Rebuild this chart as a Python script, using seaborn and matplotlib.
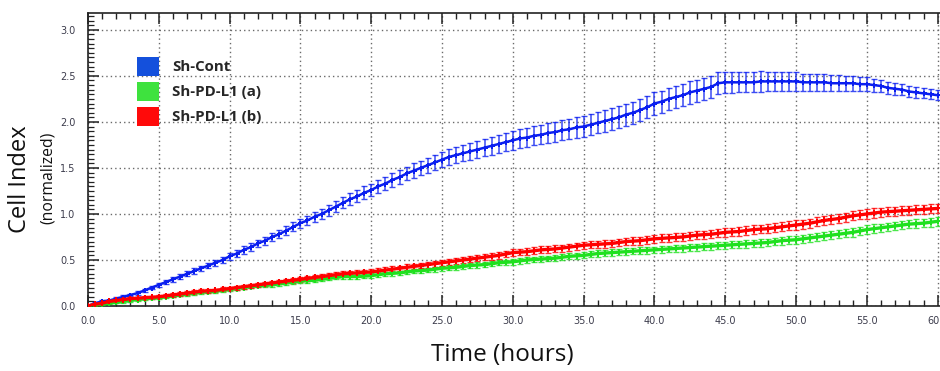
import numpy as np
import pandas as pd
import matplotlib
matplotlib.use("Agg")
import matplotlib.pyplot as plt
from matplotlib.patches import Patch
from matplotlib.ticker import MultipleLocator, FormatStrFormatter
import seaborn as sns

# ---------------- data ----------------
time_h = [i * 0.5 for i in range(121)]  # 0.0 ... 60.0 hours

sh_cont = [
    0.00, 0.03, 0.05, 0.06, 0.08, 0.10, 0.12, 0.14, 0.17, 0.20,
    0.23, 0.26, 0.29, 0.32, 0.35, 0.38, 0.41, 0.44, 0.47, 0.50,
    0.54, 0.57, 0.61, 0.64, 0.68, 0.71, 0.75, 0.78, 0.82, 0.86,
    0.90, 0.93, 0.97, 1.00, 1.04, 1.08, 1.12, 1.16, 1.19, 1.23,
    1.26, 1.30, 1.33, 1.37, 1.40, 1.44, 1.47, 1.50, 1.53, 1.56,
    1.59, 1.62, 1.64, 1.66, 1.68, 1.70, 1.72, 1.74, 1.76, 1.78,
    1.80, 1.82, 1.83, 1.85, 1.86, 1.88, 1.89, 1.91, 1.92, 1.94,
    1.95, 1.97, 1.99, 2.01, 2.03, 2.05, 2.08, 2.10, 2.13, 2.16,
    2.20, 2.22, 2.25, 2.27, 2.29, 2.32, 2.34, 2.36, 2.38, 2.42,
    2.43, 2.43, 2.43, 2.43, 2.43, 2.44, 2.44, 2.44, 2.44, 2.44,
    2.44, 2.43, 2.43, 2.43, 2.43, 2.42, 2.42, 2.42, 2.42, 2.41,
    2.41, 2.40, 2.39, 2.37, 2.36, 2.35, 2.33, 2.32, 2.31, 2.30,
    2.29,
]
sh_cont_err = [
    0.01, 0.01, 0.01, 0.01, 0.015, 0.015, 0.015, 0.02, 0.02, 0.02,
    0.02, 0.02, 0.025, 0.025, 0.025, 0.03, 0.03, 0.03, 0.03, 0.035,
    0.035, 0.035, 0.04, 0.04, 0.04, 0.045, 0.045, 0.045, 0.05, 0.05,
    0.05, 0.05, 0.055, 0.055, 0.06, 0.06, 0.06, 0.065, 0.065, 0.07,
    0.07, 0.07, 0.07, 0.075, 0.075, 0.075, 0.08, 0.08, 0.08, 0.08,
    0.085, 0.085, 0.09, 0.09, 0.09, 0.095, 0.095, 0.10, 0.10, 0.10,
    0.10, 0.10, 0.10, 0.105, 0.105, 0.105, 0.11, 0.11, 0.11, 0.11,
    0.11, 0.115, 0.115, 0.115, 0.12, 0.12, 0.12, 0.12, 0.12, 0.12,
    0.12, 0.12, 0.12, 0.12, 0.12, 0.12, 0.12, 0.12, 0.12, 0.12,
    0.115, 0.115, 0.11, 0.11, 0.11, 0.11, 0.105, 0.105, 0.10, 0.10,
    0.10, 0.095, 0.095, 0.09, 0.09, 0.085, 0.085, 0.08, 0.08, 0.075,
    0.075, 0.07, 0.07, 0.065, 0.065, 0.06, 0.06, 0.06, 0.055, 0.055,
    0.055,
]
sh_pdl1_a = [
    0.00, 0.01, 0.02, 0.03, 0.04, 0.05, 0.06, 0.07, 0.08, 0.085,
    0.09, 0.10, 0.11, 0.12, 0.13, 0.14, 0.15, 0.155, 0.16, 0.17,
    0.18, 0.19, 0.20, 0.21, 0.22, 0.225, 0.23, 0.24, 0.25, 0.26,
    0.27, 0.275, 0.28, 0.29, 0.30, 0.31, 0.32, 0.32, 0.32, 0.325,
    0.33, 0.34, 0.35, 0.355, 0.36, 0.37, 0.38, 0.385, 0.39, 0.40,
    0.41, 0.415, 0.42, 0.43, 0.44, 0.445, 0.45, 0.46, 0.47, 0.475,
    0.48, 0.49, 0.50, 0.505, 0.51, 0.515, 0.52, 0.53, 0.54, 0.545,
    0.55, 0.56, 0.57, 0.575, 0.58, 0.585, 0.59, 0.595, 0.60, 0.605,
    0.61, 0.615, 0.62, 0.625, 0.63, 0.635, 0.64, 0.645, 0.65, 0.655,
    0.66, 0.665, 0.67, 0.675, 0.68, 0.685, 0.69, 0.70, 0.71, 0.715,
    0.72, 0.73, 0.74, 0.75, 0.76, 0.77, 0.78, 0.79, 0.80, 0.815,
    0.83, 0.84, 0.85, 0.86, 0.87, 0.88, 0.89, 0.895, 0.90, 0.91,
    0.92,
]
sh_pdl1_a_err = [
    0.005, 0.008, 0.01, 0.01, 0.01, 0.012, 0.012, 0.012, 0.014, 0.014,
    0.015, 0.015, 0.015, 0.016, 0.016, 0.016, 0.017, 0.017, 0.017, 0.018,
    0.018, 0.018, 0.019, 0.019, 0.019, 0.02, 0.02, 0.02, 0.02, 0.02,
    0.021, 0.021, 0.021, 0.022, 0.022, 0.022, 0.022, 0.023, 0.023, 0.023,
    0.024, 0.024, 0.024, 0.025, 0.025, 0.025, 0.025, 0.026, 0.026, 0.026,
    0.027, 0.027, 0.027, 0.028, 0.028, 0.028, 0.029, 0.029, 0.029, 0.03,
    0.03, 0.03, 0.03, 0.031, 0.031, 0.031, 0.032, 0.032, 0.032, 0.033,
    0.033, 0.033, 0.034, 0.034, 0.034, 0.035, 0.035, 0.035, 0.036, 0.036,
    0.036, 0.037, 0.037, 0.037, 0.038, 0.038, 0.038, 0.039, 0.039, 0.039,
    0.04, 0.04, 0.04, 0.041, 0.041, 0.041, 0.042, 0.042, 0.042, 0.043,
    0.043, 0.043, 0.044, 0.044, 0.044, 0.045, 0.045, 0.045, 0.045, 0.045,
    0.046, 0.046, 0.046, 0.046, 0.046, 0.047, 0.047, 0.047, 0.047, 0.047,
    0.047,
]
sh_pdl1_b = [
    0.00, 0.02, 0.03, 0.05, 0.06, 0.07, 0.08, 0.085, 0.09, 0.095,
    0.10, 0.11, 0.12, 0.13, 0.14, 0.15, 0.16, 0.165, 0.17, 0.18,
    0.19, 0.20, 0.21, 0.22, 0.23, 0.24, 0.25, 0.26, 0.27, 0.28,
    0.29, 0.30, 0.31, 0.32, 0.33, 0.34, 0.35, 0.355, 0.36, 0.365,
    0.37, 0.38, 0.39, 0.40, 0.41, 0.42, 0.43, 0.44, 0.45, 0.46,
    0.47, 0.48, 0.49, 0.50, 0.51, 0.52, 0.53, 0.54, 0.55, 0.565,
    0.58, 0.585, 0.59, 0.60, 0.61, 0.615, 0.62, 0.63, 0.64, 0.65,
    0.66, 0.665, 0.67, 0.675, 0.68, 0.69, 0.70, 0.705, 0.71, 0.72,
    0.73, 0.735, 0.74, 0.745, 0.75, 0.76, 0.77, 0.775, 0.78, 0.79,
    0.80, 0.805, 0.81, 0.82, 0.83, 0.835, 0.84, 0.85, 0.86, 0.87,
    0.88, 0.89, 0.90, 0.915, 0.93, 0.94, 0.95, 0.965, 0.98, 0.99,
    1.00, 1.01, 1.02, 1.025, 1.03, 1.035, 1.04, 1.045, 1.05, 1.055,
    1.06,
]
sh_pdl1_b_err = [
    0.006, 0.01, 0.012, 0.012, 0.014, 0.014, 0.015, 0.015, 0.016, 0.016,
    0.017, 0.017, 0.018, 0.018, 0.019, 0.019, 0.02, 0.02, 0.02, 0.021,
    0.021, 0.022, 0.022, 0.022, 0.023, 0.023, 0.024, 0.024, 0.024, 0.025,
    0.025, 0.025, 0.026, 0.026, 0.027, 0.027, 0.027, 0.028, 0.028, 0.028,
    0.029, 0.029, 0.03, 0.03, 0.03, 0.031, 0.031, 0.031, 0.032, 0.032,
    0.032, 0.033, 0.033, 0.033, 0.034, 0.034, 0.034, 0.035, 0.035, 0.035,
    0.036, 0.036, 0.036, 0.037, 0.037, 0.037, 0.038, 0.038, 0.038, 0.039,
    0.039, 0.039, 0.04, 0.04, 0.04, 0.041, 0.041, 0.041, 0.042, 0.042,
    0.042, 0.043, 0.043, 0.043, 0.044, 0.044, 0.044, 0.045, 0.045, 0.045,
    0.046, 0.046, 0.046, 0.047, 0.047, 0.047, 0.048, 0.048, 0.048, 0.049,
    0.049, 0.049, 0.05, 0.05, 0.05, 0.05, 0.05, 0.05, 0.05, 0.05,
    0.05, 0.05, 0.05, 0.05, 0.05, 0.05, 0.05, 0.05, 0.05, 0.05,
    0.05,
]

series_names = ["Sh-Cont", "Sh-PD-L1 (a)", "Sh-PD-L1 (b)"]
x_ticks = [0, 5, 10, 15, 20, 25, 30, 35, 40, 45, 50, 55, 60]
y_ticks = [0.0, 0.5, 1.0, 1.5, 2.0, 2.5, 3.0]

# ---------------- styling ----------------
line_colors = {"Sh-Cont": "#0a1ef0", "Sh-PD-L1 (a)": "#1fe01f", "Sh-PD-L1 (b)": "#ff0000"}
legend_colors = {"Sh-Cont": "#1450dc", "Sh-PD-L1 (a)": "#3ee23e", "Sh-PD-L1 (b)": "#ff0a0a"}

sns.set_theme(style="white")
plt.rcParams["font.family"] = ["DejaVu Sans"]

frames = []
for name, vals, errs in zip(series_names,
                            [sh_cont, sh_pdl1_a, sh_pdl1_b],
                            [sh_cont_err, sh_pdl1_a_err, sh_pdl1_b_err]):
    frames.append(pd.DataFrame({"time": time_h, "ci": vals, "err": errs, "series": name}))
df = pd.concat(frames, ignore_index=True)

W, H = 940, 371
fig = plt.figure(figsize=(W / 100, H / 100), dpi=100)
fig.patch.set_facecolor("white")

left_px, right_px, bottom_px, top_px = 88, 966, 306, 13.3
ax = fig.add_axes([left_px / W, (H - bottom_px) / H,
                   (right_px - left_px) / W, (bottom_px - top_px) / H])
ax.set_facecolor("white")

# error bars first, then the lines with markers
for name in series_names:
    sub = df[df["series"] == name]
    ax.errorbar(sub["time"], sub["ci"], yerr=sub["err"], fmt="none",
                ecolor=line_colors[name], elinewidth=1.1, capsize=2.0,
                capthick=1.0, alpha=0.8, zorder=3)

sns.lineplot(data=df[df["series"] == "Sh-Cont"], x="time", y="ci", hue="series",
             hue_order=["Sh-Cont"], palette=line_colors, errorbar=None, ax=ax,
             legend=False, linewidth=1.8, marker="P", markersize=3.6,
             markeredgewidth=0, zorder=4)
sns.lineplot(data=df[df["series"] != "Sh-Cont"], x="time", y="ci", hue="series",
             hue_order=series_names[1:], palette=line_colors, errorbar=None, ax=ax,
             legend=False, linewidth=2.4, marker="P", markersize=5.0,
             markeredgewidth=0, zorder=4)

ax.set_xlim(0, 62)
ax.set_ylim(0, 3.18)

ax.xaxis.set_major_locator(MultipleLocator(5))
ax.xaxis.set_minor_locator(MultipleLocator(1))
ax.yaxis.set_major_locator(MultipleLocator(0.5))
ax.yaxis.set_minor_locator(MultipleLocator(0.05))
ax.set_xticks(x_ticks)
ax.set_yticks(y_ticks)
ax.xaxis.set_major_formatter(FormatStrFormatter("%.1f"))
ax.yaxis.set_major_formatter(FormatStrFormatter("%.1f"))

tick_col = "#3c3c4c"
ax.tick_params(axis="x", which="major", direction="in", length=8, width=1.1,
               color="#222222", labelsize=7, labelcolor=tick_col, pad=7,
               top=True, bottom=True)
ax.tick_params(axis="x", which="minor", direction="in", length=4, width=1.0,
               color="#222222", top=True, bottom=True)
ax.tick_params(axis="y", which="major", direction="in", length=8, width=1.1,
               color="#222222", labelsize=7, labelcolor=tick_col, pad=9,
               left=True, right=False)
ax.tick_params(axis="y", which="minor", direction="in", length=4, width=0.9,
               color="#222222", left=True, right=False)

ax.grid(True, which="major", color="#6a6a6a", linestyle=(0, (1, 2.2)), linewidth=1.0)
ax.set_axisbelow(True)
for side in ["left", "bottom", "top"]:
    ax.spines[side].set_visible(True)
    ax.spines[side].set_color("#222222")
    ax.spines[side].set_linewidth(1.2)
ax.spines["right"].set_visible(False)

ax.set_xlabel("")
ax.set_ylabel("")

fig.text(502 / W, 1 - 355 / H, "Time (hours)", family=["Open Sans", "DejaVu Sans"],
         fontsize=17.5, ha="center", va="center", color="#111111")
fig.text(20 / W, 1 - 179 / H, "Cell Index", family=["Open Sans", "DejaVu Sans"],
         fontsize=17, rotation=90, ha="center", va="center", color="#111111")
fig.text(48 / W, 1 - 178 / H, "(normalized)", family=["Open Sans", "DejaVu Sans"],
         fontsize=11.3, rotation=90, ha="center", va="center", color="#111111")

handles = [Patch(facecolor=legend_colors[n], edgecolor="none", label=n) for n in series_names]
fig.legend(handles=handles, loc="upper left", bbox_to_anchor=(137 / W, 1 - 57 / H),
           frameon=False, borderpad=0, borderaxespad=0,
           handlelength=1.47, handleheight=1.57, handletextpad=0.85,
           labelspacing=0.4,
           prop={"family": ["Open Sans", "DejaVu Sans"], "weight": "bold", "size": 10.8})

fig.savefig("out.png", dpi=100, facecolor="white")
